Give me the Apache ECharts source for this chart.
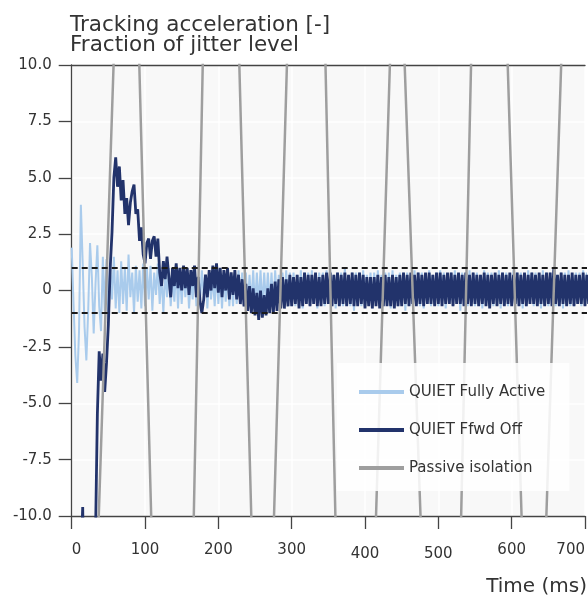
<!DOCTYPE html>
<html>
<head>
<meta charset="utf-8">
<script src="https://cdn.jsdelivr.net/npm/echarts@6/dist/echarts.min.js"></script>
<style>
html,body{margin:0;padding:0;background:#fff;}
#chart{width:588px;height:597px;}
</style>
</head>
<body>
<div id="chart"></div>
<script>
// ---- data ----
const sampleStepMs = 2.5; // sampling interval of the two QUIET traces, starting at t = 0 ms

const fullyActive = [
  1.9, -0.6, -2.9, -4.1, -1.8, 3.8, 1.2, -1.6, -3.1, -0.9, 2.1, 0.6, -1.9, 0.3, 2.0, -0.7, -1.8, 1.5, -0.9, 1.4,
  -1.3, 1.2, -0.4, 1.5, -0.8, 0.9, -1.0, 1.3, -0.6, 1.0, -0.9, 1.6, -0.3, 0.8, -1.0, 1.1, -0.5, 0.9, -0.8, 1.2,
  -0.7, 1.0, -0.4, 1.1, -0.9, 0.8, -0.2, 1.2, -0.6, 0.7, -1.0, 0.9, -0.3, 1.0, -0.7, 0.6, -0.5, 1.1, -0.8, 0.9,
  -0.6, 0.8, -0.3, 0.9, -0.8, 0.5, -0.4, 1.0, -0.7, 0.6, -0.5, 0.9, -0.2, 0.7, -0.8, 0.8, -0.4, 0.6, -0.7, 0.9,
  -0.6, 0.8, -0.8, 0.8, -0.5, 0.9, -0.7, 0.7, -0.7, 0.8, -0.6, 0.9, -0.6, 0.8, -0.7, 0.8, -0.8, 0.7, -0.6, 0.9,
  -0.7, 0.8, -0.6, 0.9, -0.7, 0.8, -0.6, 0.8, -0.6, 0.8, -0.8, 0.9, -0.6, 0.7, -0.7, 0.8, -0.6, 0.9, -0.7, 0.8,
  -0.7, 0.8, -0.7, 0.7, -0.6, 0.9, -0.8, 0.8, -0.6, 0.8, -0.7, 0.9, -0.6, 0.7, -0.8, 0.8, -0.6, 0.8, -0.7, 0.9,
  -0.6, 0.9, -0.7, 0.7, -0.8, 0.8, -0.6, 0.8, -0.7, 1.0, -0.6, 0.7, -0.7, 0.8, -0.9, 0.8, -0.6, 0.8, -0.7, 0.9,
  -0.7, 0.7, -0.6, 0.8, -0.8, 0.8, -0.6, 0.9, -0.7, 0.7, -0.7, 0.8, -0.6, 0.8, -0.8, 0.9, -0.6, 0.7, -0.7, 0.8,
  -0.6, 0.8, -0.9, 0.8, -0.6, 0.7, -0.7, 0.9, -0.6, 0.8, -0.7, 0.8, -0.8, 0.7, -0.6, 0.9, -0.7, 0.7, -0.6, 0.8,
  -0.7, 0.9, -0.6, 0.8, -0.8, 0.7, -0.6, 0.8, -0.7, 0.9, -0.6, 0.7, -0.9, 0.8, -0.6, 0.8, -0.7, 0.9, -0.6, 0.8,
  -0.7, 0.8, -0.6, 0.7, -0.8, 0.9, -0.6, 0.8, -0.7, 0.8, -0.7, 0.7, -0.6, 0.9, -0.8, 0.8, -0.6, 0.8, -0.7, 0.7,
  -0.6, 0.9, -0.7, 0.8, -0.6, 0.8, -0.8, 0.7, -0.7, 0.9, -0.6, 0.8, -0.7, 0.8, -0.6, 0.7, -0.8, 0.9, -0.6, 0.8,
  -0.7, 0.8, -0.6, 0.9, -0.7, 0.7, -0.6, 0.8, -0.8, 0.8, -0.6, 0.9, -0.7, 0.7, -0.7, 0.8, -0.6, 0.8, -0.7, 0.9,
  -0.6, 0.8, -0.7, 0.8, -0.6, 0.7, -0.7, 0.8, -0.6
];

const ffwdOff = [
  -15, -15, -15, -15, -15, -15, -9.6, -15, -15, -15, -15, -15, -15, -10.8, -5.5, -2.7, -4.0, -2.8, -4.5, -3.2,
  -1.5, 1.0, 2.6, 5.0, 5.9, 4.6, 5.5, 4.0, 4.9, 3.4, 4.1, 2.9, 3.9, 4.4, 4.7, 3.4, 3.6, 2.2, 2.8, 1.6,
  1.2, 2.1, 2.3, 1.4, 2.2, 2.4, 1.5, 2.3, 0.8, 0.2, 1.3, 0.5, 1.5, 0.6, -0.3, 1.0, 0.2, 1.2, 0.1, 1.0,
  0.0, 1.1, 0.1, 1.0, -0.2, 0.9, 0.2, 1.1, -0.3, 0.6, -0.5, -1.0, -0.4, 0.7, -0.3, 0.9, 0.0, 1.1, 0.1, 1.2,
  -0.1, 1.0, -0.3, 0.9, 0.0, 1.0, -0.4, 0.8, -0.2, 0.9, -0.4, 0.7, -0.6, 0.5, -0.7, 0.3, -0.9, 0.2, -1.0, 0.1,
  -1.1, -0.1, -1.3, 0.0, -1.2, -0.2, -1.1, 0.1, -1.0, 0.3, -1.0, 0.4, -0.9, 0.5, -0.8, 0.6, -0.8, 0.5, -0.7, 0.7,
  -0.7, 0.6, -0.6, 0.7, -0.8, 0.6, -0.7, 0.8, -0.6, 0.7, -0.7, 0.7, -0.6, 0.8, -0.7, 0.6, -0.7, 0.7, -0.6, 0.8,
  -0.6, 0.8, -0.7, 0.7, -0.6, 0.8, -0.7, 0.7, -0.6, 0.8, -0.7, 0.7, -0.6, 0.8, -0.7, 0.7, -0.7, 0.8, -0.6, 0.7,
  -0.8, 0.6, -0.7, 0.6, -0.8, 0.6, -0.7, 0.7, -0.8, 0.6, -0.7, 0.7, -0.7, 0.6, -0.7, 0.7, -0.8, 0.6, -0.7, 0.7,
  -0.7, 0.8, -0.6, 0.7, -0.7, 0.8, -0.6, 0.7, -0.7, 0.8, -0.6, 0.7, -0.7, 0.8, -0.6, 0.8, -0.6, 0.7, -0.7, 0.8,
  -0.6, 0.8, -0.7, 0.7, -0.6, 0.8, -0.6, 0.8, -0.7, 0.7, -0.6, 0.8, -0.6, 0.7, -0.7, 0.8, -0.6, 0.7, -0.7, 0.8,
  -0.6, 0.7, -0.7, 0.7, -0.6, 0.8, -0.7, 0.7, -0.8, 0.7, -0.6, 0.8, -0.7, 0.7, -0.6, 0.8, -0.7, 0.7, -0.6, 0.8,
  -0.7, 0.7, -0.6, 0.8, -0.7, 0.7, -0.6, 0.8, -0.7, 0.7, -0.6, 0.8, -0.6, 0.7, -0.7, 0.8, -0.6, 0.7, -0.7, 0.8,
  -0.6, 0.8, -0.7, 1.0, -0.6, 0.7, -0.7, 0.8, -0.6, 0.7, -0.7, 0.7, -0.6, 0.8, -0.7, 0.7, -0.6, 0.7, -0.6, 0.8,
  -0.7, 0.7, -0.6, 0.7, -0.6, 0.7, -0.7, 0.6, -0.6
];

// Passive isolation: a large swing that mostly leaves the [-10, 10] window
const passiveTime = [0, 36.9, 57.1, 74, 92.2, 108.4, 137, 166.5, 178.7, 204, 228.6, 244.9, 260, 275.9, 293.5, 320, 346.1, 359.6, 387, 415.0, 433.9, 444, 454.1, 475.7, 503, 531.1, 544.6, 570, 594.6, 613.5, 630, 647.3, 667.5, 690, 720];
const passiveValue = [-60, -10, 10, 60, 10, -10, -60, -10, 10, 60, 10, -10, -40, -10, 10, 60, 10, -10, -60, -10, 10, 14, 10, -10, -60, -10, 10, 60, 10, -10, -40, -10, 10, 40, 10];

const jitterLevel = [1, -1];
const timeRange = [0, 720];

const seriesNames = ['QUIET Fully Active', 'QUIET Ffwd Off', 'Passive isolation'];
const titleLines = ['Tracking acceleration [-]', 'Fraction of jitter level'];
const xAxisTitle = 'Time (ms)';
const loweredTickLabels = [400, 500];

// ---- build ----
const toPairs = vals => vals.map((v, i) => [i * sampleStepMs, v]);
const FONT = 'DejaVu Sans';
const TXT = '#333';
const COLORS = ['#a9cbec', '#22336b', '#9e9e9e'];

const chart = echarts.init(document.getElementById('chart'), null, {renderer: 'canvas'});
const dashSeries = jitterLevel.map(j => ({
  type: 'line', name: 'jitter' + j, data: timeRange.map(t => [t, j]),
  symbol: 'none', silent: true,
  lineStyle: {color: '#1a1a1a', width: 2, type: [6, 4]}
}));

chart.setOption({
  animation: false,
  backgroundColor: '#fff',
  textStyle: {fontFamily: FONT},
  title: [
    {text: titleLines.join('\n'), left: 65, top: 10, padding: 5,
     textStyle: {fontFamily: FONT, fontSize: 21.5, fontWeight: 'normal', color: TXT, lineHeight: 20}},
    {text: xAxisTitle, right: -4, top: 572, padding: 5,
     textStyle: {fontFamily: FONT, fontSize: 20, fontWeight: 'normal', color: TXT}}
  ],
  grid: {left: 71.7, right: -2, top: 65, bottom: 81, show: true, backgroundColor: '#f8f8f8', borderWidth: 0},
  legend: {
    orient: 'vertical', left: 337, top: 363,
    data: seriesNames,
    icon: 'rect',
    backgroundColor: 'rgba(255,255,255,0.85)',
    padding: [21, 24, 15, 22],
    itemWidth: 45, itemHeight: 4, itemGap: 22,
    textStyle: {fontFamily: FONT, fontSize: 15, color: TXT, lineHeight: 16}
  },
  xAxis: [{
    type: 'value', min: 0, max: 700, interval: 100,
    axisLine: {show: true, onZero: false, lineStyle: {color: '#444', width: 1.3}},
    axisTick: {show: true, length: 13, lineStyle: {color: '#444', width: 1.3}},
    axisLabel: {margin: 27, fontSize: 15, color: TXT, fontFamily: FONT, alignMinLabel: 'left', alignMaxLabel: 'right',
      formatter: v => loweredTickLabels.includes(v) ? '{lo|' + v + '}' : String(v),
      rich: {lo: {fontSize: 15, color: TXT, fontFamily: FONT, padding: [4, 0, 0, 0]}}},
    splitLine: {show: true, lineStyle: {color: '#ffffff', width: 1.5}}
  }, {
    type: 'value', position: 'top', min: 0, max: 700,
    axisLine: {show: true, onZero: false, lineStyle: {color: '#444', width: 1.3}},
    axisTick: {show: false}, axisLabel: {show: false}, splitLine: {show: false}
  }],
  yAxis: {
    type: 'value', min: -10, max: 10, interval: 2.5,
    axisLine: {show: true, onZero: false, lineStyle: {color: '#444', width: 1.3}},
    axisTick: {show: true, length: 13, lineStyle: {color: '#444', width: 1.3}},
    axisLabel: {margin: 20, fontSize: 15, color: TXT, fontFamily: FONT,
      formatter: v => v === 0 ? '0' : v.toFixed(1)},
    splitLine: {show: true, lineStyle: {color: '#ffffff', width: 1.5}}
  },
  series: [
    {type: 'line', name: seriesNames[0], data: toPairs(fullyActive), symbol: 'none',
     color: COLORS[0], itemStyle: {color: COLORS[0]}, lineStyle: {color: COLORS[0], width: 2}},
    {type: 'line', name: seriesNames[1], data: toPairs(ffwdOff), symbol: 'none',
     color: COLORS[1], itemStyle: {color: COLORS[1]}, lineStyle: {color: COLORS[1], width: 2.8}},
    {type: 'line', name: seriesNames[2], data: passiveTime.map((t, i) => [t, passiveValue[i]]), symbol: 'none',
     color: COLORS[2], itemStyle: {color: COLORS[2]}, lineStyle: {color: COLORS[2], width: 2.5}},
    ...dashSeries
  ]
});
</script>
</body>
</html>
